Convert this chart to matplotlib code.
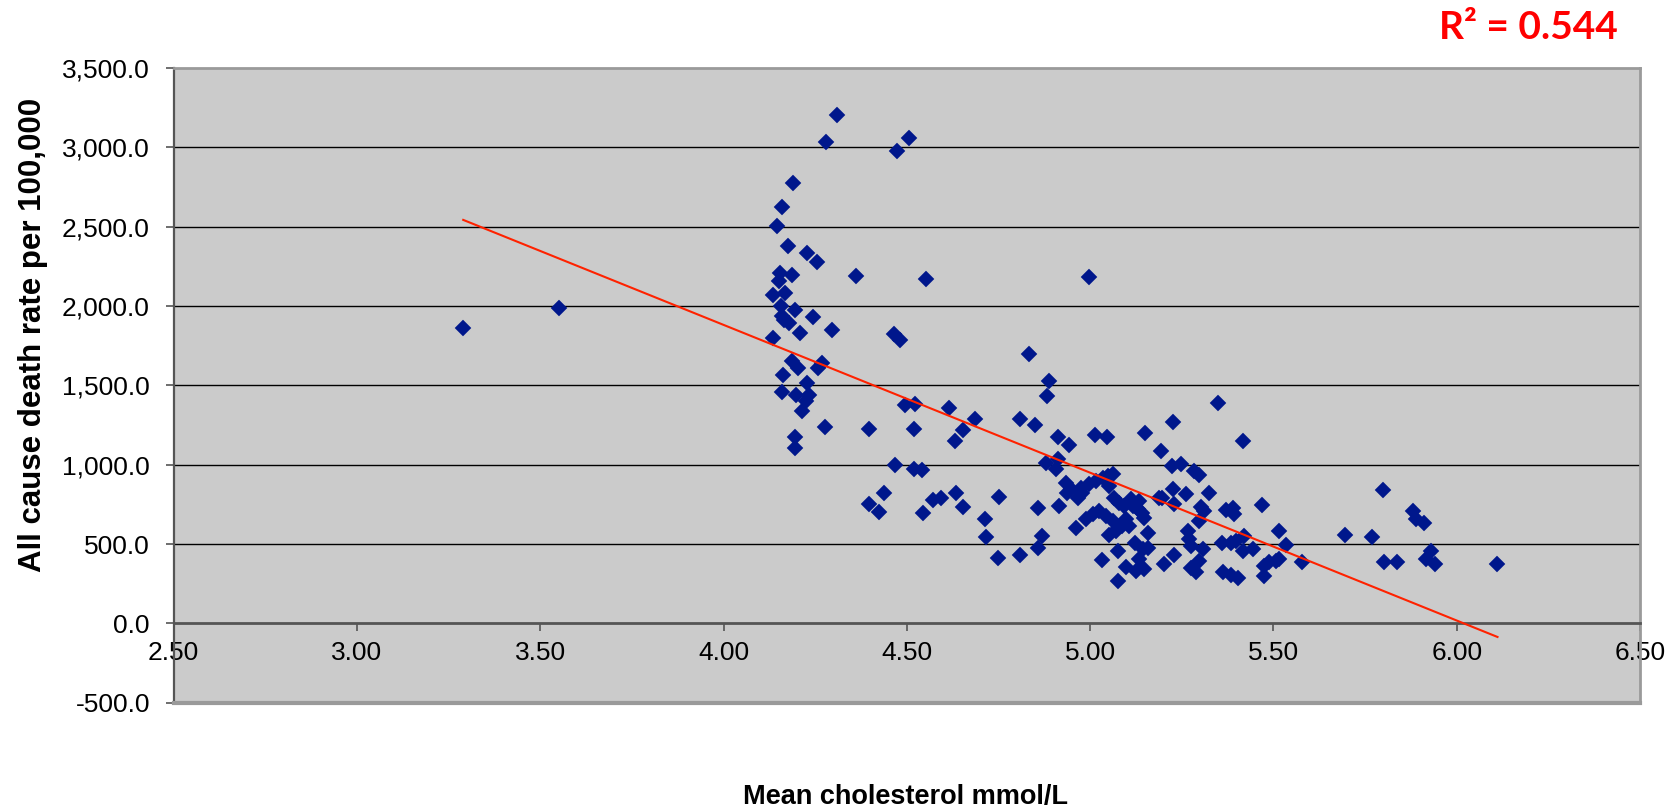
import numpy as np
import matplotlib
matplotlib.use("Agg")
import matplotlib.pyplot as plt
from matplotlib.ticker import FuncFormatter, MultipleLocator

# ---- data (mean cholesterol mmol/L, all-cause death rate per 100,000) ----
cholesterol = [
    3.29, 3.55,
    4.31, 4.28, 4.19, 4.16, 4.145, 4.177, 4.227, 4.256, 4.155, 4.188, 4.150, 4.134, 4.168,
    4.157, 4.196, 4.166, 4.179, 4.245, 4.160, 4.209, 4.296, 4.136, 4.187, 4.202, 4.268,
    4.259, 4.163, 4.229, 4.159, 4.199, 4.232, 4.226, 4.213, 4.277, 4.194, 4.194,
    4.505, 4.473, 4.361, 4.551, 4.998, 4.466, 4.481, 4.832, 4.888, 4.883, 4.496, 4.523,
    4.614, 4.687, 4.652, 4.632, 4.397, 4.520, 4.808, 4.850, 4.911, 4.943, 5.014, 5.045,
    5.150, 5.194, 5.227, 5.349, 5.418,
    4.468, 4.520, 4.541, 4.879, 4.911, 4.907, 5.223, 5.248, 5.284, 5.296,
    4.397, 4.425, 4.438, 4.543, 4.570, 4.593, 4.634, 4.652, 4.752, 4.714, 4.716, 4.750,
    4.808, 4.857, 4.916, 4.870, 4.859,
    4.934, 4.948, 4.938, 4.966, 4.975, 4.998, 5.016, 5.034, 5.048, 5.061, 5.052,
    4.961, 4.988, 5.007, 5.025, 5.043, 5.061, 5.075,
    5.066, 5.079, 5.093, 5.111, 5.134,
    5.098, 5.088, 5.070, 5.107,
    5.052, 5.141, 5.148, 5.157,
    5.123, 5.143, 5.159, 5.134, 5.125, 5.148,
    5.075, 5.032, 5.098, 5.075, 5.187, 4.979, 5.116, 5.130,
    5.195, 5.225, 5.229, 5.261, 5.325, 5.302, 5.311, 5.298, 5.370, 5.389, 5.393, 5.468,
    5.516, 5.534, 5.578,
    5.266, 5.270, 5.275, 5.307, 5.298, 5.275, 5.289,
    5.229, 5.202,
    5.359, 5.384, 5.398, 5.420, 5.416, 5.443,
    5.361, 5.384, 5.402,
    5.475, 5.489, 5.507, 5.475, 5.516,
    5.695, 5.768, 5.798, 5.802, 5.837, 5.881, 5.889, 5.911, 5.930, 5.916, 5.941, 6.111,
]
death_rate = [
    1860, 1990,
    3205, 3035, 2777, 2622, 2505, 2375, 2333, 2277, 2207, 2197, 2155, 2071, 2082,
    1997, 1977, 1914, 1893, 1928, 1940, 1830, 1851, 1799, 1652, 1610, 1641,
    1610, 1563, 1516, 1459, 1436, 1442, 1400, 1341, 1236, 1174, 1107,
    3056, 2977, 2186, 2167, 2180, 1824, 1788, 1698, 1530, 1431, 1379, 1385,
    1358, 1291, 1216, 1148, 1226, 1226, 1285, 1247, 1174, 1121, 1190, 1176,
    1201, 1086, 1268, 1390, 1148,
    997, 970, 966, 1013, 1038, 970, 991, 1002, 960, 933,
    755, 704, 824, 698, 775, 792, 824, 733, 799, 660, 545, 415,
    431, 725, 740, 551, 473,
    887, 845, 824, 792, 855, 876, 897, 918, 928, 939, 866,
    604, 656, 687, 708, 677, 645, 604,
    792, 761, 740, 782, 771,
    656, 614, 582, 614,
    555, 698, 667, 572,
    509, 467, 478, 404, 331, 341,
    457, 398, 358, 264, 792, 824, 740, 720,
    792, 845, 750, 813, 824, 733, 708, 645, 712, 729, 687, 744,
    582, 494, 387,
    582, 530, 488, 467, 394, 352, 321,
    430, 377,
    509, 509, 519, 551, 457, 467,
    321, 304, 285,
    362, 384, 394, 299, 404,
    555, 547, 840, 384, 384, 708, 656, 635, 457, 404, 373, 377,
]
r2_label = "R² = 0.544"
x_label = "Mean cholesterol mmol/L"
y_label = "All cause death rate per 100,000"

x = np.array(cholesterol)
y = np.array(death_rate)

fig = plt.figure(figsize=(16.77, 8.08), dpi=100)
ax = fig.add_axes([0.1035, 0.1303, 0.8745, 0.7856])
ax.set_facecolor("#CBCBCB")

ax.set_xlim(2.5, 6.5)
ax.set_ylim(-500, 3500)
ax.yaxis.set_major_locator(MultipleLocator(500))
ax.xaxis.set_major_locator(MultipleLocator(0.5))
ax.yaxis.set_major_formatter(FuncFormatter(lambda v, p: f"{v:,.1f}"))
ax.xaxis.set_major_formatter(FuncFormatter(lambda v, p: f"{v:.2f}"))

# gridlines
for gv in np.arange(500, 3500, 500):
    ax.axhline(gv, color="black", lw=1.0, zorder=1)

# frame
ax.spines["bottom"].set_position(("data", 0))
ax.spines["bottom"].set_color("#555555")
ax.spines["bottom"].set_linewidth(2.0)
ax.spines["left"].set_color("#555555")
ax.spines["left"].set_linewidth(1.6)
for s in ("top", "right"):
    ax.spines[s].set_color("#9A9A9A")
    ax.spines[s].set_linewidth(2.0)
ax.axhline(-500, color="#9A9A9A", lw=3.0, zorder=5, clip_on=False)

font = "Liberation Sans"
ax.tick_params(axis="y", direction="out", length=6, width=1.2, color="#555555",
               pad=11, labelsize=19)
ax.tick_params(axis="x", direction="out", length=6, width=1.2, color="#555555",
               pad=7, labelsize=19)
for lab in ax.get_xticklabels() + ax.get_yticklabels():
    lab.set_fontfamily(font)

# scatter
ax.plot(x, y, linestyle="none", marker="D", markersize=8.0,
        color="#00178C", markeredgecolor="#00178C", markeredgewidth=0.3, zorder=3)

# linear trendline
slope, intercept = np.polyfit(x, y, 1)
xt = np.array([x.min(), x.max()])
ax.plot(xt, slope * xt + intercept, color="#FF2200", lw=1.5, zorder=4, clip_on=False)

fig.text(0.0195, 0.585, y_label, rotation=90, ha="center", va="center",
         fontsize=22.5, fontweight="bold", family=font)
fig.text(0.540, 0.013, x_label, ha="center", va="center",
         fontsize=19.5, fontweight="bold", family=font)
fig.text(0.9115, 0.966, r2_label, ha="center", va="center",
         fontsize=28, fontweight="bold", family="Lato", color="#FF0000")

fig.savefig("out.png", dpi=100)
